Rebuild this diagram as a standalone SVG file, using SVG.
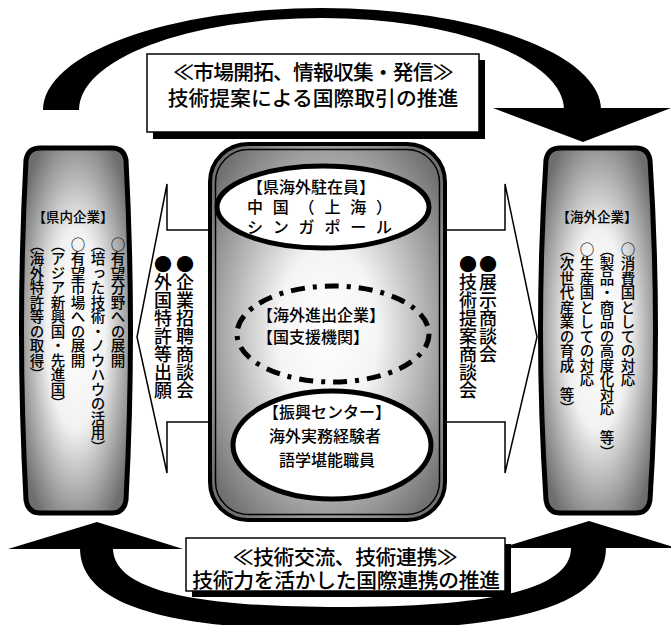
<svg xmlns="http://www.w3.org/2000/svg" width="671" height="625" viewBox="0 0 671 625">
<defs>
<radialGradient id="gBox" cx="50%" cy="50%" r="60%">
<stop offset="0" stop-color="#ffffff"/>
<stop offset="0.45" stop-color="#f2f2f2"/>
<stop offset="1" stop-color="#6e6e6e"/>
</radialGradient>
<radialGradient id="gCol" cx="50%" cy="50%" r="62%">
<stop offset="0" stop-color="#ffffff"/>
<stop offset="0.35" stop-color="#f4f4f4"/>
<stop offset="1" stop-color="#707070"/>
</radialGradient>
<style>
.jp{font-family:"Noto Sans CJK JP","Noto Sans CJK SC",sans-serif;fill:#000;font-weight:500}
.lbl{font-size:20.8px}
.ctr{font-size:16px}
.hdr{font-size:13.5px}
.vt{font-size:14.5px;writing-mode:vertical-rl}
.vb{font-size:18px;writing-mode:vertical-rl}
.band{fill:#000;stroke:none}
.arr{fill:#fff;stroke:#000;stroke-width:1.5;stroke-linejoin:miter}
.shadow{fill:#000}
.lblbox{fill:#fff;stroke:#000;stroke-width:1.5}
.ell{fill:#fff;stroke:#000;stroke-width:5}
</style>
</defs>

<g id="connectors">
<g id="top-arc">
<path class="band" d="M43,110 A279,102 0 0 1 601,110 L564,110 A242.5,92 0 0 0 79,110 Z"/>
<polygon class="band" points="493,108 671,108 583,142"/>
</g>
<g id="bottom-arc">
<path class="band" d="M80,548 C80,615 200,630 340,630 C480,630 606,615 606,548 L571,548 C571,592 480,607 340,607 C200,607 113,592 113,548 Z"/>
<polygon class="band" points="8,549 183,549 97,522"/>
<polygon class="band" points="501,548 677,548 589,521"/>
</g>
<g id="left-arrow">
<polygon class="arr" points="137,337 167,184 167,230 230,230 230,422 167,422 167,473"/>
</g>
<g id="right-arrow">
<polygon class="arr" points="537,337 505,184 505,230 440,230 440,422 505,422 505,473"/>
</g>
</g>

<g id="top-label">
<rect class="shadow" x="153" y="60" width="332" height="79"/>
<rect class="lblbox" x="147" y="54" width="332" height="78"/>
<text class="jp lbl" text-anchor="middle"><tspan x="313" y="80" letter-spacing="-0.85">≪市場開拓、情報収集・発信≫</tspan><tspan x="313" y="106">技術提案による国際取引の推進</tspan></text>
</g>

<g id="bottom-label">
<rect class="shadow" x="192" y="544" width="319" height="53"/>
<rect class="lblbox" x="186" y="538" width="319" height="53"/>
<text class="jp lbl" text-anchor="middle"><tspan x="345" y="565" letter-spacing="-0.4">≪技術交流、技術連携≫</tspan><tspan x="346" y="588" letter-spacing="-0.3">技術力を活かした国際連携の推進</tspan></text>
</g>

<g id="left-box">
<path d="M40,148 H112 Q124,148 126,160 Q135,330 126,500 Q124,513 112,513 H40 Q28,513 26,500 Q17,330 26,160 Q28,148 40,148 Z" fill="url(#gBox)" stroke="#000" stroke-width="5"/>
<text class="jp hdr" x="73" y="222" text-anchor="middle">【県内企業】</text>
<text class="jp vt" x="118" y="237">○有望分野への展開</text>
<text class="jp vt" x="98" y="237">（培った技術・ノウハウの活用）</text>
<text class="jp vt" x="78" y="237">○有望市場への展開</text>
<text class="jp vt" x="58" y="237">（アジア新興国・先進国）</text>
<text class="jp vt" x="37" y="237">（海外特許等の取得）</text>
</g>

<g id="left-bullets">
<text class="jp vb" x="185" y="255">●企業招聘商談会</text>
<text class="jp vb" x="163" y="255">●外国特許等出願</text>
</g>

<g id="right-box">
<path d="M560,148 H636 Q648,148 650,160 Q661,330 650,500 Q648,513 636,513 H560 Q548,513 546,500 Q535,330 546,160 Q548,148 560,148 Z" fill="url(#gBox)" stroke="#000" stroke-width="5"/>
<text class="jp hdr" x="597" y="222" text-anchor="middle">【海外企業】</text>
<text class="jp vt" x="628" y="242">○消費国としての対応</text>
<text class="jp vt" x="607" y="242">（製品・商品の高度化対応　等）</text>
<text class="jp vt" x="587" y="242">○生産国としての対応</text>
<text class="jp vt" x="567" y="242">（次世代産業の育成　等）</text>
</g>

<g id="right-bullets">
<text class="jp vb" x="488" y="255">●展示商談会</text>
<text class="jp vb" x="468" y="255">●技術提案商談会</text>
</g>

<g id="center-column">
<rect x="210" y="144" width="235" height="376" rx="38" fill="url(#gCol)" stroke="#000" stroke-width="4"/>
<rect x="215.5" y="149.5" width="224" height="365" rx="33" fill="none" stroke="#000" stroke-width="1.5"/>
</g>

<g id="node-staff">
<ellipse class="ell" cx="323" cy="207" rx="106" ry="41"/>
<text class="jp ctr"><tspan x="247" y="193">【県海外駐在員】</tspan><tspan x="247" y="213" letter-spacing="9.8">中国（上海）</tspan><tspan x="247" y="233" letter-spacing="9.8">シンガポール</tspan></text>
</g>

<g id="node-companies">
<ellipse cx="333" cy="334" rx="96" ry="48" fill="none" stroke="#000" stroke-width="5" stroke-dasharray="14 8 4 8"/>
<text class="jp ctr"><tspan x="257" y="321">【海外進出企業】</tspan><tspan x="257" y="343">【国支援機関】</tspan></text>
</g>

<g id="node-center">
<ellipse class="ell" cx="332" cy="445" rx="99" ry="54"/>
<text class="jp ctr" text-anchor="middle"><tspan x="327" y="418">【振興センター】</tspan><tspan x="325" y="442">海外実務経験者</tspan><tspan x="327" y="466">語学堪能職員</tspan></text>
</g>
</svg>
